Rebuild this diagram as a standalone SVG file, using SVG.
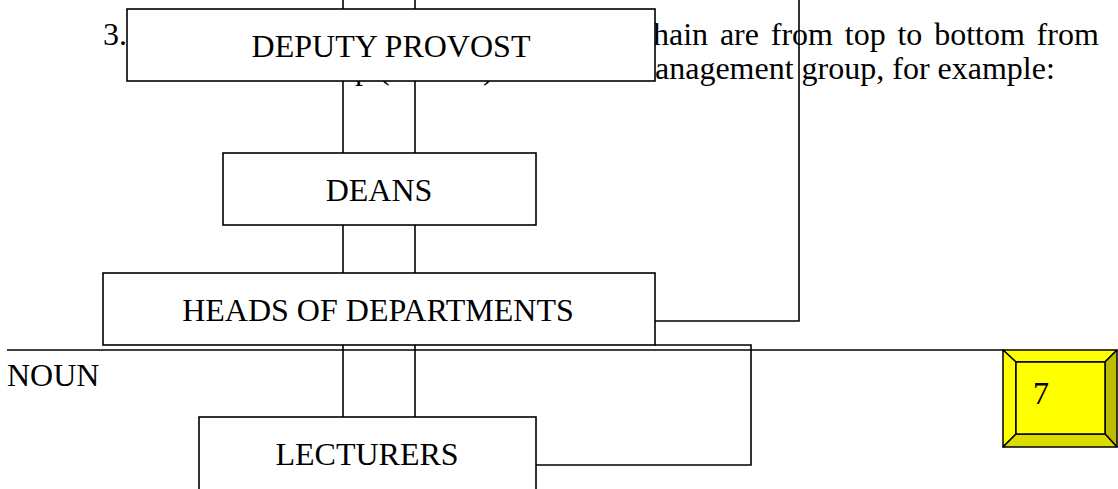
<svg xmlns="http://www.w3.org/2000/svg" width="1118" height="489" viewBox="0 0 1118 489">
<style>
text{font-family:"Liberation Serif","Times New Roman",serif;font-size:32px;fill:#000}
.box{fill:#fff;stroke:#000;stroke-width:1.6}
.con{fill:none;stroke:#000;stroke-width:1.6}
.bev{stroke:#000;stroke-width:1.5;stroke-linejoin:round}
</style>
<g id="page-text">
<text x="103" y="45">3.</text>
<text x="653" y="45" word-spacing="3.8">hain are from top to bottom from</text>
<text x="655" y="79">anagement group, for example:</text>
<text x="355" y="79">p (</text>
<text x="483" y="79">)</text>
<text x="7" y="386">NOUN</text>
</g>
<line x1="7" y1="350" x2="1003" y2="350" stroke="#000" stroke-width="1.3"/>
<g id="connectors">
<path class="con" d="M343,0 V417"/>
<path class="con" d="M415,0 V417"/>
<path class="con" d="M655,321 H799 V0"/>
<path class="con" d="M655,345 H751 V465 H536"/>
</g>
<g id="deputy-provost">
<rect class="box" x="127" y="9" width="528" height="72"/>
<text x="391" y="57" text-anchor="middle">DEPUTY PROVOST</text>
</g>
<g id="deans">
<rect class="box" x="223" y="153" width="313" height="72"/>
<text x="379" y="201" text-anchor="middle">DEANS</text>
</g>
<g id="heads-of-departments">
<rect class="box" x="103" y="273" width="552" height="72"/>
<text x="378" y="321" text-anchor="middle">HEADS OF DEPARTMENTS</text>
</g>
<g id="lecturers">
<rect class="box" x="199" y="417" width="337" height="80"/>
<text x="367" y="465" text-anchor="middle">LECTURERS</text>
</g>
<g id="page-number">
<polygon class="bev" fill="#ffff00" points="1003,350 1117,350 1105,362 1016,362"/>
<polygon class="bev" fill="#ffff00" points="1003,350 1016,362 1016,434 1003,447"/>
<polygon class="bev" fill="#bdbd00" points="1117,350 1117,447 1105,434 1105,362"/>
<polygon class="bev" fill="#dcdc00" points="1003,447 1016,434 1105,434 1117,447"/>
<rect class="bev" fill="#ffff00" x="1016" y="362" width="89" height="72"/>
<text x="1033" y="404">7</text>
</g>
</svg>
